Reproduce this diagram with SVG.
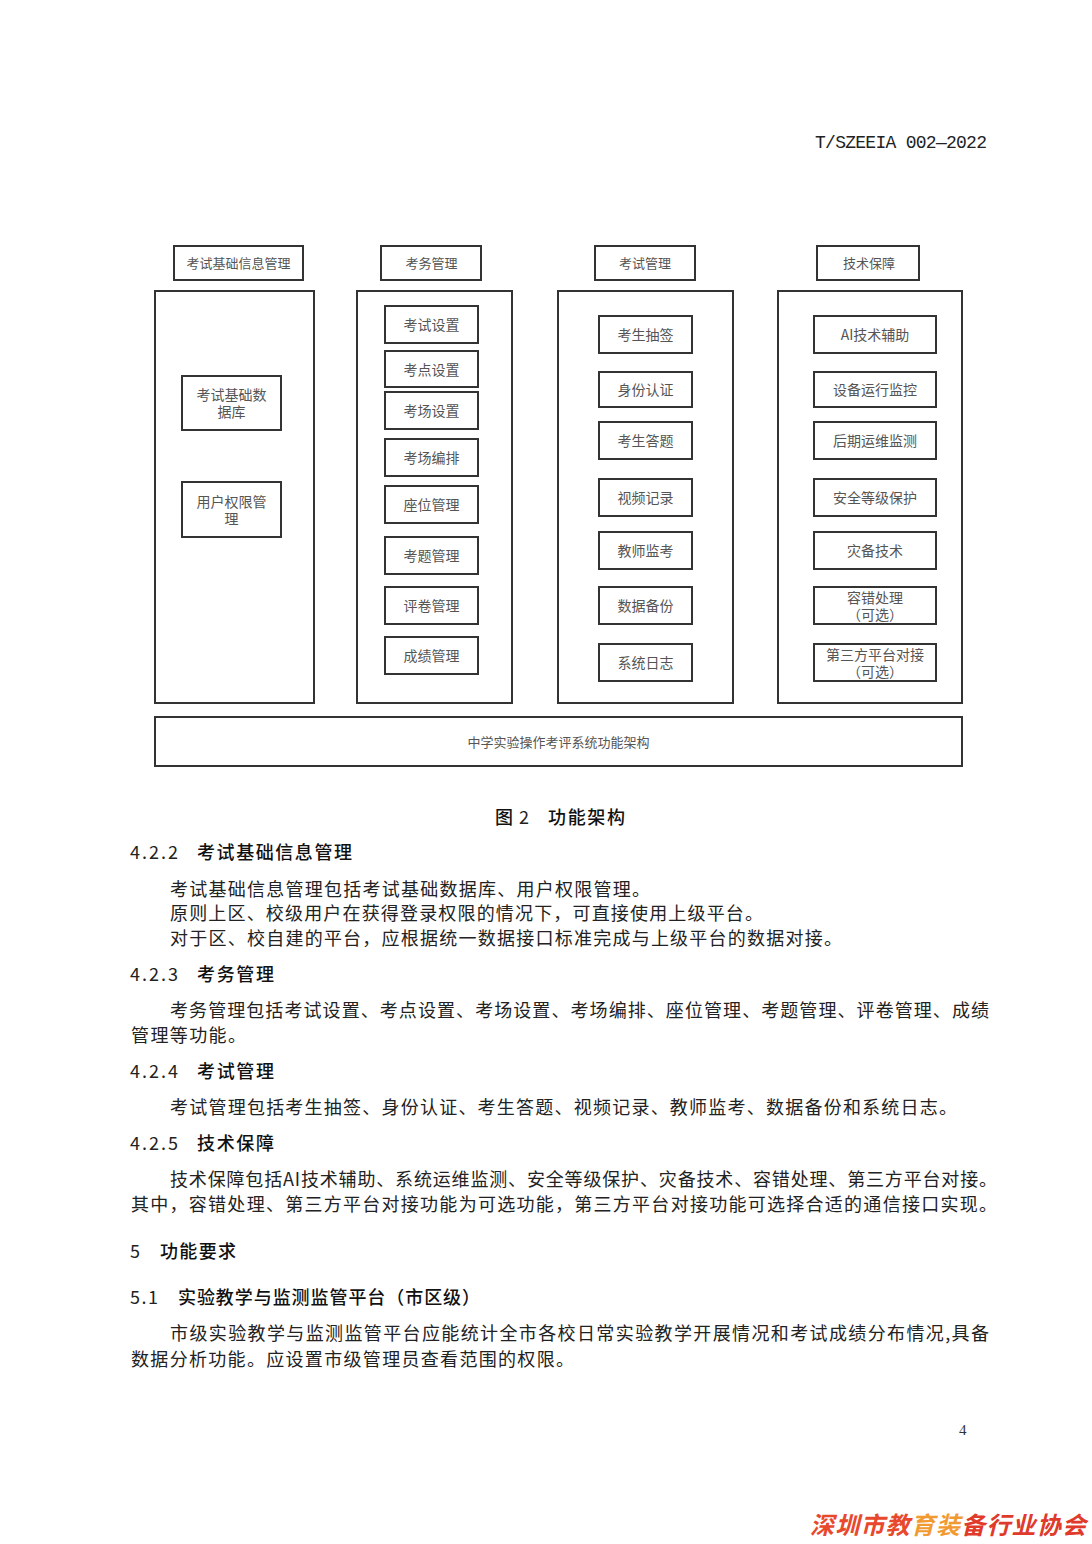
<svg xmlns="http://www.w3.org/2000/svg" width="1092" height="1544" viewBox="0 0 1092 1544">
<style>
.b{fill:#fff;stroke:#333;stroke-width:2}
.l{font-family:"Noto Sans CJK SC","Liberation Sans",sans-serif;font-size:13px;fill:#555;text-anchor:middle}
.s{font-family:"Noto Sans CJK SC","Liberation Sans",sans-serif;font-size:14px;fill:#555;text-anchor:middle}
.t{font-family:"Noto Sans CJK SC","Liberation Sans",sans-serif;font-size:18px;fill:#222}
.h{font-family:"Noto Sans CJK SC","Liberation Sans",sans-serif;font-size:18px;fill:#111;font-weight:500}
.n{font-family:"Noto Sans CJK SC","Liberation Sans",sans-serif;font-size:18px;fill:#222}
.m{font-family:"Liberation Mono",monospace;font-size:18px;fill:#222}
.o1{fill:#e8482c}.o2{fill:#f29a32}.o3{fill:#e03a2b}
</style>
<rect width="1092" height="1544" fill="#fff"/>
<text class="m" x="815" y="148" textLength="172">T/SZEEIA 002—2022</text>

<g id="top1"><rect class="b" x="174" y="246" width="129" height="34"/><text class="l" x="238.500" y="268">考试基础信息管理</text></g>
<g id="top2"><rect class="b" x="381" y="246" width="100" height="34"/><text class="l" x="431.500" y="268">考务管理</text></g>
<g id="top3"><rect class="b" x="595" y="246" width="100" height="34"/><text class="l" x="645" y="268">考试管理</text></g>
<g id="top4"><rect class="b" x="817" y="246" width="102" height="34"/><text class="l" x="869" y="268">技术保障</text></g>

<g id="col1"><rect class="b" x="155" y="291" width="159" height="412"/></g>
<g id="col2"><rect class="b" x="357" y="291" width="155" height="412"/></g>
<g id="col3"><rect class="b" x="558" y="291" width="175" height="412"/></g>
<g id="col4"><rect class="b" x="778" y="291" width="184" height="412"/></g>

<g id="a1"><rect class="b" x="182" y="376" width="99" height="54"/><text class="s" x="231.500" y="400">考试基础数</text><text class="s" x="231.500" y="417">据库</text></g>
<g id="a2"><rect class="b" x="182" y="482" width="99" height="55"/><text class="s" x="231.500" y="507">用户权限管</text><text class="s" x="231.500" y="524">理</text></g>

<g id="b1"><rect class="b" x="385" y="306" width="93" height="37"/><text class="s" x="431.500" y="330">考试设置</text></g>
<g id="b2"><rect class="b" x="385" y="351" width="93" height="36"/><text class="s" x="431.500" y="375">考点设置</text></g>
<g id="b3"><rect class="b" x="385" y="392" width="93" height="37"/><text class="s" x="431.500" y="416">考场设置</text></g>
<g id="b4"><rect class="b" x="385" y="439" width="93" height="37"/><text class="s" x="431.500" y="463">考场编排</text></g>
<g id="b5"><rect class="b" x="385" y="486" width="93" height="37"/><text class="s" x="431.500" y="510">座位管理</text></g>
<g id="b6"><rect class="b" x="385" y="537" width="93" height="37"/><text class="s" x="431.500" y="561">考题管理</text></g>
<g id="b7"><rect class="b" x="385" y="587" width="93" height="37"/><text class="s" x="431.500" y="611">评卷管理</text></g>
<g id="b8"><rect class="b" x="385" y="637" width="93" height="37"/><text class="s" x="431.500" y="661">成绩管理</text></g>

<g id="c1"><rect class="b" x="599" y="316" width="93" height="37"/><text class="s" x="645.500" y="340">考生抽签</text></g>
<g id="c2"><rect class="b" x="599" y="372" width="93" height="35"/><text class="s" x="645.500" y="395">身份认证</text></g>
<g id="c3"><rect class="b" x="599" y="422" width="93" height="37"/><text class="s" x="645.500" y="446">考生答题</text></g>
<g id="c4"><rect class="b" x="599" y="479" width="93" height="37"/><text class="s" x="645.500" y="503">视频记录</text></g>
<g id="c5"><rect class="b" x="599" y="532" width="93" height="37"/><text class="s" x="645.500" y="556">教师监考</text></g>
<g id="c6"><rect class="b" x="599" y="587" width="93" height="37"/><text class="s" x="645.500" y="611">数据备份</text></g>
<g id="c7"><rect class="b" x="599" y="644" width="93" height="37"/><text class="s" x="645.500" y="668">系统日志</text></g>

<g id="d1"><rect class="b" x="814" y="316" width="122" height="37"/><text class="s" x="875" y="340">AI技术辅助</text></g>
<g id="d2"><rect class="b" x="814" y="372" width="122" height="35"/><text class="s" x="875" y="395">设备运行监控</text></g>
<g id="d3"><rect class="b" x="814" y="422" width="122" height="37"/><text class="s" x="875" y="446">后期运维监测</text></g>
<g id="d4"><rect class="b" x="814" y="479" width="122" height="37"/><text class="s" x="875" y="503">安全等级保护</text></g>
<g id="d5"><rect class="b" x="814" y="532" width="122" height="37"/><text class="s" x="875" y="556">灾备技术</text></g>
<g id="d6"><rect class="b" x="814" y="587" width="122" height="37"/><text class="s" x="875" y="603">容错处理</text><text class="s" x="875" y="620">（可选）</text></g>
<g id="d7"><rect class="b" x="814" y="644" width="122" height="37"/><text class="s" x="875" y="660">第三方平台对接</text><text class="s" x="875" y="677">（可选）</text></g>

<g id="base"><rect class="b" x="155" y="717" width="807" height="49"/><text class="l" x="558.500" y="747">中学实验操作考评系统功能架构</text></g>
<g id="connectors"/>

<text class="h" x="495" y="824">图</text><text class="n" x="519" y="824">2</text><text class="h" x="548" y="824" textLength="77">功能架构</text>
<text class="n" x="130" y="859" textLength="48">4.2.2</text><text class="h" x="197" y="859" textLength="155">考试基础信息管理</text>
<text class="t" x="170" y="896" textLength="480">考试基础信息管理包括考试基础数据库、用户权限管理。</text>
<text class="t" x="170" y="920" textLength="593">原则上区、校级用户在获得登录权限的情况下，可直接使用上级平台。</text>
<text class="t" x="170" y="945" textLength="672">对于区、校自建的平台，应根据统一数据接口标准完成与上级平台的数据对接。</text>
<text class="n" x="130" y="981" textLength="48">4.2.3</text><text class="h" x="197" y="981" textLength="77">考务管理</text>
<text class="t" x="170" y="1017" textLength="819">考务管理包括考试设置、考点设置、考场设置、考场编排、座位管理、考题管理、评卷管理、成绩</text>
<text class="t" x="131" y="1042" textLength="115">管理等功能。</text>
<text class="n" x="130" y="1078" textLength="48">4.2.4</text><text class="h" x="197" y="1078" textLength="77">考试管理</text>
<text class="t" x="170" y="1114" textLength="787">考试管理包括考生抽签、身份认证、考生答题、视频记录、教师监考、数据备份和系统日志。</text>
<text class="n" x="130" y="1150" textLength="48">4.2.5</text><text class="h" x="197" y="1150" textLength="77">技术保障</text>
<text class="t" x="170" y="1186" textLength="827">技术保障包括AI技术辅助、系统运维监测、安全等级保护、灾备技术、容错处理、第三方平台对接。</text>
<text class="t" x="131" y="1211" textLength="866">其中，容错处理、第三方平台对接功能为可选功能，第三方平台对接功能可选择合适的通信接口实现。</text>
<text class="n" x="130" y="1258">5</text><text class="h" x="160" y="1258" textLength="76">功能要求</text>
<text class="n" x="130" y="1304" textLength="28">5.1</text><text class="h" x="178" y="1304" textLength="302">实验教学与监测监管平台（市区级）</text>
<text class="t" x="170" y="1340" textLength="819">市级实验教学与监测监管平台应能统计全市各校日常实验教学开展情况和考试成绩分布情况,具备</text>
<text class="t" x="131" y="1366" textLength="443">数据分析功能。应设置市级管理员查看范围的权限。</text>
<text x="959" y="1435" font-family="Liberation Serif,serif" font-size="15" fill="#333">4</text>
<text x="810" y="1534" textLength="276" font-family="Noto Sans CJK SC,sans-serif" font-size="24" font-weight="700" font-style="italic"><tspan class="o1">深圳市教</tspan><tspan class="o2">育装</tspan><tspan class="o3">备行业协会</tspan></text>
</svg>
